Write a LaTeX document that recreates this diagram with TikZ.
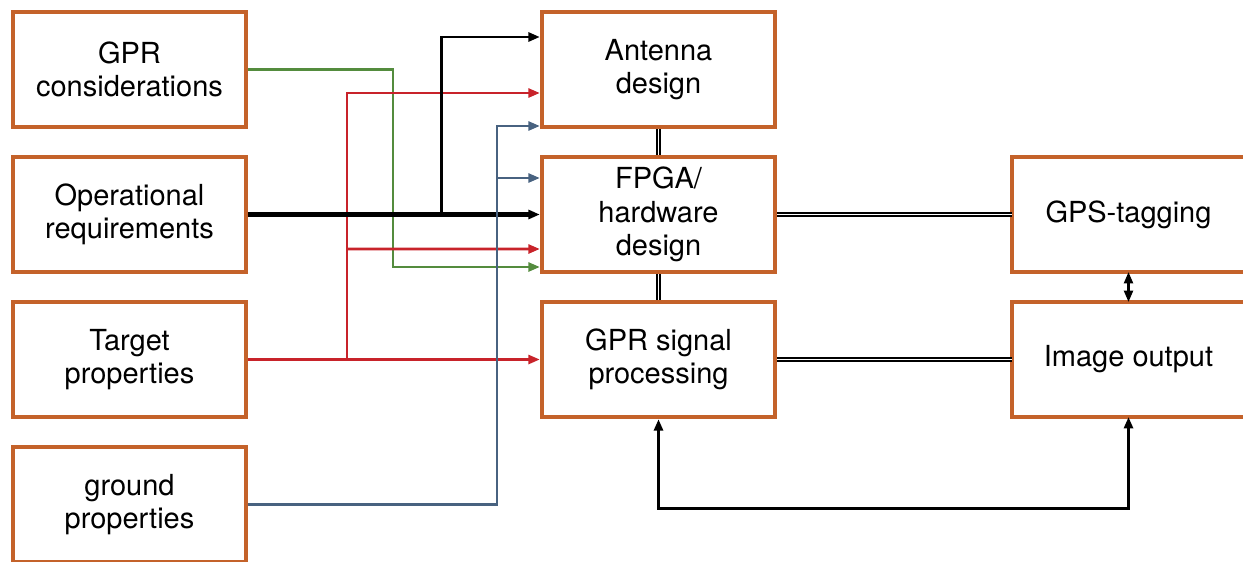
\documentclass[tikz,border=0pt]{standalone}
\usepackage{fontspec}
\setmainfont{TeX Gyre Heros}
\usetikzlibrary{arrows.meta, calc, positioning}
\definecolor{boxorange}{RGB}{196,98,42}
\definecolor{accentgreen}{RGB}{84,140,62}
\definecolor{accentred}{RGB}{200,35,42}
\definecolor{slateblue}{RGB}{72,98,128}

\begin{document}
\begin{tikzpicture}[x=0.02cm, y=-0.02cm, >={Triangle[length=2.3mm, width=1.8mm]},
    block/.style={draw=boxorange, line width=2.5pt, fill=white, align=center,
        minimum width=4.66cm, minimum height=2.3cm, inner sep=0pt,
        font=\fontsize{16.5}{19}\selectfont},
    openblock/.style={block, draw=none, outer sep=0pt, minimum width=5cm, anchor=west},
    link/.style={double, line width=0.6pt, double distance=1.1pt},
    feed/.style={->, line width=1.5pt}]
    \useasboundingbox (0,0) rectangle (1243,561);

    % Inputs
    \node[block] (gprcons) at (129.5,69.5) {GPR\\considerations};
    \node[block] (opreq) at (129.5,214.5) {Operational\\requirements};
    \node[block] (target) at (129.5,359.5) {Target\\properties};
    \node[block] (ground) at (129.5,504.5) {ground\\properties};

    % Design blocks
    \node[block] (antenna) at (658.5,69.5) {Antenna\\design};
    \node[block] (fpga) at (658.5,214.5) {FPGA/\\hardware\\design};
    \node[block] (sigproc) at (658.5,359.5) {GPR signal\\processing};

    % Outputs (right side cut by the margin)
    \coordinate (outx) at (1128.5,0);
    \node[openblock] (gps) at (1012,214.5) {GPS-tagging\hspace*{0.34cm}};
    \node[openblock] (imgout) at (1012,359.5) {Image output\hspace*{0.34cm}};
    \foreach \b in {gps, imgout}
        \draw[boxorange, line width=2.5pt] (\b.north -| 1243,0) -- (\b.north west)
            -- (\b.south west) -- (\b.south -| 1243,0);

    % Links between blocks
    \draw[link] (antenna) -- (fpga);
    \draw[link] (fpga) -- (sigproc);
    \draw[link] (fpga) -- (gps);
    \draw[link] (sigproc) -- (imgout);
    \draw[<->, line width=1.4pt] (gps.south -| outx) -- (imgout.north -| outx);
    \draw[<->, line width=1.7pt] (sigproc.south) -- ++(0,89) -| (imgout.south -| outx);

    % GPR considerations
    \draw[feed, accentgreen] (gprcons.east) -- (393,69.5) |- ($(fpga.west)+(0,52.5)$);

    % Target properties
    \coordinate (rsplit) at (347,359.5);
    \draw[feed, accentred] (target.east) -- (sigproc.west);
    \draw[feed, accentred] (rsplit) |- ($(antenna.west)+(0,23.5)$);
    \draw[feed, accentred] (rsplit |- 0,249) -- ($(fpga.west)+(0,34.5)$);

    % Operational requirements
    \coordinate (ksplit) at (441,214.5);
    \draw[feed, black, line width=2.3pt] (opreq.east) -- (fpga.west);
    \draw[feed, black, line width=1.7pt] (ksplit) |- ($(antenna.west)+(0,-32.5)$);

    % Ground properties
    \coordinate (bsplit) at (497,178);
    \draw[feed, slateblue] (ground.east) -- (497,504.5) |- ($(antenna.west)+(0,56.5)$);
    \draw[feed, slateblue] (bsplit) -- ($(fpga.west)+(0,-36.5)$);
\end{tikzpicture}
\end{document}
